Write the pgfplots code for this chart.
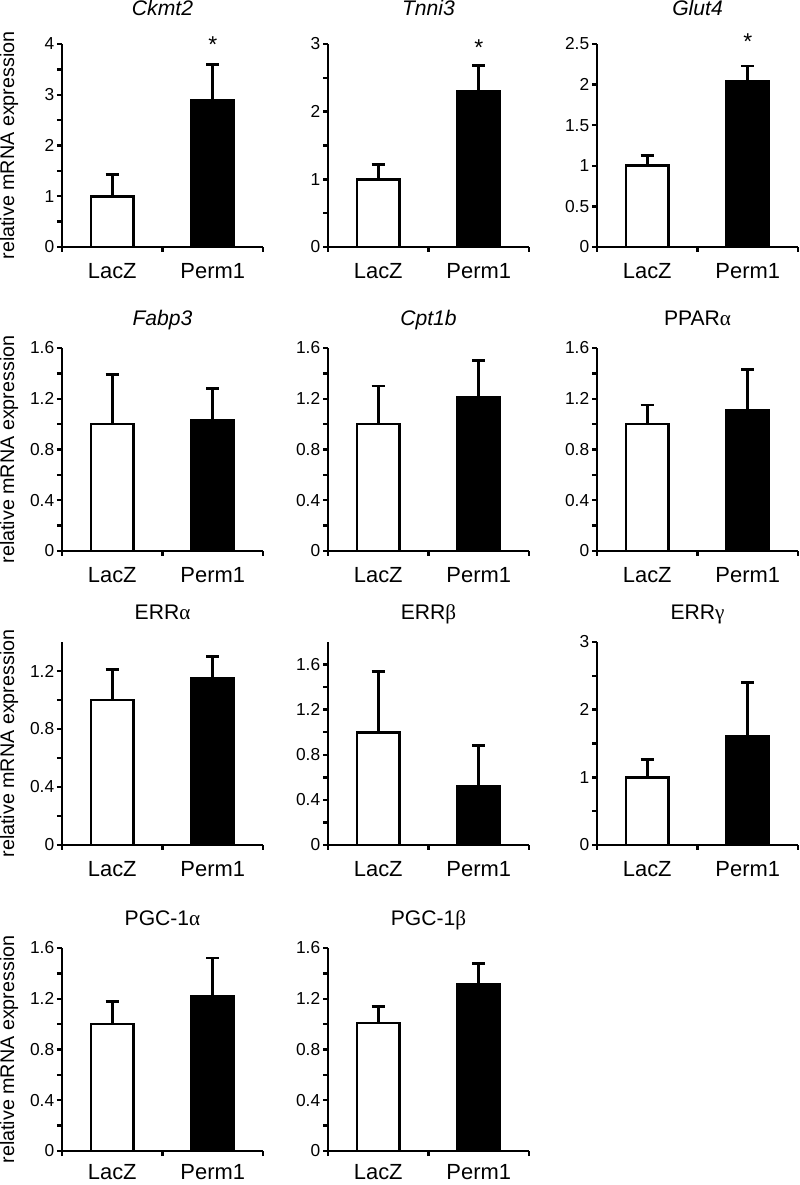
\documentclass[border=0pt]{standalone}
\usepackage{pgfplots}
\pgfplotsset{compat=1.18}
\usepackage{fontspec}
\setmainfont{Liberation Sans}
\newfontfamily\grk{Liberation Serif}

\pgfplotsset{
  panel/.style={
    scale only axis, width=100.5bp, height=101.5bp,
    xmin=-0.5, xmax=1.5, ymin=0,
    clip=false,
    axis lines*=left,
    axis line style={line width=1.3bp, black},
    tick align=outside,
    major tick length=2.5bp, minor tick length=2.5bp,
    every tick/.style={black, line width=1.2bp},
    xtick={-0.5,0.5,1.5}, xticklabels={,,},
    extra x ticks={0,1}, extra x tick labels={LacZ,Perm1},
    extra x tick style={major tick length=0pt,
      xticklabel style={font=\fontsize{11}{12}\selectfont, anchor=north, inner sep=0pt, yshift=-8bp}},
    yticklabel style={font=\fontsize{8.7}{9}\selectfont, anchor=east, inner sep=0pt, xshift=-1.2bp},
    /pgf/number format/assume math mode=true,
    every axis title/.style={at={(0.5,1)}, anchor=base, font=\fontsize{10.6}{12}\selectfont},
    every axis y label/.style={at={(-0.264,0.5)}, rotate=90, anchor=center, font=\fontsize{9.9}{12}\selectfont},
  },
  wbar/.style={ybar, bar shift=0pt, bar width=0.42, fill=white, draw=black, line width=1.3bp,
    error bars/.cd, y dir=plus, y explicit,
    error bar style={line width=1.3bp, black},
    error mark options={rotate=90, mark size=3.3bp, line width=1.3bp, black}},
  bbar/.style={ybar, bar shift=0pt, bar width=0.42, fill=black, draw=black, line width=1.3bp,
    error bars/.cd, y dir=plus, y explicit,
    error bar style={line width=1.3bp, black},
    error mark options={rotate=90, mark size=3.3bp, line width=1.3bp, black}},
}

\begin{document}
\begin{tikzpicture}
\path[use as bounding box] (0,0) rectangle (400bp,592.5bp);

% ---------------- Row 1 ----------------
\begin{axis}[panel, at={(31bp,469bp)}, anchor=south west,
  ymax=4, ytick={0,1,2,3,4}, minor y tick num=1,
  title={\itshape Ckmt2}, title style={yshift=14bp},
  ylabel={relative mRNA expression}]
\addplot[wbar] coordinates {(0,1.00) +- (0,0.43)};
\addplot[bbar] coordinates {(1,2.89) +- (0,0.71)};
\node[anchor=north, inner sep=0pt, font=\fontsize{11.5}{12}\selectfont] at (axis cs:1,4.16) {*};
\end{axis}

\begin{axis}[panel, at={(164bp,469bp)}, anchor=south west,
  ymax=3, ytick={0,1,2,3}, minor y tick num=1,
  title={\itshape Tnni3}, title style={yshift=14bp}]
\addplot[wbar] coordinates {(0,1.00) +- (0,0.22)};
\addplot[bbar] coordinates {(1,2.30) +- (0,0.38)};
\node[anchor=north, inner sep=0pt, font=\fontsize{11.5}{12}\selectfont] at (axis cs:1,3.07) {*};
\end{axis}

\begin{axis}[panel, at={(298.5bp,469bp)}, anchor=south west,
  ymax=2.5, ytick={0,0.5,1,1.5,2,2.5},
  title={\itshape Glut4}, title style={yshift=14bp}]
\addplot[wbar] coordinates {(0,1.00) +- (0,0.13)};
\addplot[bbar] coordinates {(1,2.04) +- (0,0.19)};
\node[anchor=north, inner sep=0pt, font=\fontsize{11.5}{12}\selectfont] at (axis cs:1,2.63) {*};
\end{axis}

% ---------------- Row 2 ----------------
\begin{axis}[panel, at={(31bp,317bp)}, anchor=south west,
  ymax=1.6, ytick={0,0.4,0.8,1.2,1.6}, minor y tick num=1,
  title={\itshape Fabp3}, title style={yshift=11bp},
  ylabel={relative mRNA expression}]
\addplot[wbar] coordinates {(0,1.00) +- (0,0.39)};
\addplot[bbar] coordinates {(1,1.03) +- (0,0.25)};
\end{axis}

\begin{axis}[panel, at={(164bp,317bp)}, anchor=south west,
  ymax=1.6, ytick={0,0.4,0.8,1.2,1.6}, minor y tick num=1,
  title={\itshape Cpt1b}, title style={yshift=11bp}]
\addplot[wbar] coordinates {(0,1.00) +- (0,0.30)};
\addplot[bbar] coordinates {(1,1.21) +- (0,0.29)};
\end{axis}

\begin{axis}[panel, at={(298.5bp,317bp)}, anchor=south west,
  ymax=1.6, ytick={0,0.4,0.8,1.2,1.6}, minor y tick num=1,
  title={PPAR{\grk α}}, title style={yshift=11bp}]
\addplot[wbar] coordinates {(0,1.00) +- (0,0.15)};
\addplot[bbar] coordinates {(1,1.11) +- (0,0.32)};
\end{axis}

% ---------------- Row 3 ----------------
\begin{axis}[panel, at={(31bp,170bp)}, anchor=south west,
  ymax=1.4, ytick={0,0.4,0.8,1.2}, minor y tick num=1,
  title={ERR{\grk α}}, title style={yshift=11bp},
  ylabel={relative mRNA expression}]
\addplot[wbar] coordinates {(0,1.00) +- (0,0.21)};
\addplot[bbar] coordinates {(1,1.15) +- (0,0.15)};
\end{axis}

\begin{axis}[panel, at={(164bp,170bp)}, anchor=south west,
  ymax=1.8, ytick={0,0.4,0.8,1.2,1.6}, minor y tick num=1,
  title={ERR{\grk β}}, title style={yshift=11bp}]
\addplot[wbar] coordinates {(0,1.00) +- (0,0.54)};
\addplot[bbar] coordinates {(1,0.52) +- (0,0.36)};
\end{axis}

\begin{axis}[panel, at={(298.5bp,170bp)}, anchor=south west,
  ymax=3, ytick={0,1,2,3}, minor y tick num=1,
  title={ERR{\grk γ}}, title style={yshift=11bp}]
\addplot[wbar] coordinates {(0,1.00) +- (0,0.26)};
\addplot[bbar] coordinates {(1,1.61) +- (0,0.79)};
\end{axis}

% ---------------- Row 4 ----------------
\begin{axis}[panel, at={(31bp,17bp)}, anchor=south west,
  ymax=1.6, ytick={0,0.4,0.8,1.2,1.6}, minor y tick num=1,
  title={PGC-1{\grk α}}, title style={yshift=11bp},
  ylabel={relative mRNA expression},
  extra x tick style={xticklabel style={yshift=1.5bp}}]
\addplot[wbar] coordinates {(0,1.00) +- (0,0.18)};
\addplot[bbar] coordinates {(1,1.22) +- (0,0.30)};
\end{axis}

\begin{axis}[panel, at={(164bp,17bp)}, anchor=south west,
  ymax=1.6, ytick={0,0.4,0.8,1.2,1.6}, minor y tick num=1,
  title={PGC-1{\grk β}}, title style={yshift=11bp},
  extra x tick style={xticklabel style={yshift=1.5bp}}]
\addplot[wbar] coordinates {(0,1.01) +- (0,0.13)};
\addplot[bbar] coordinates {(1,1.31) +- (0,0.17)};
\end{axis}

\end{tikzpicture}
\end{document}
